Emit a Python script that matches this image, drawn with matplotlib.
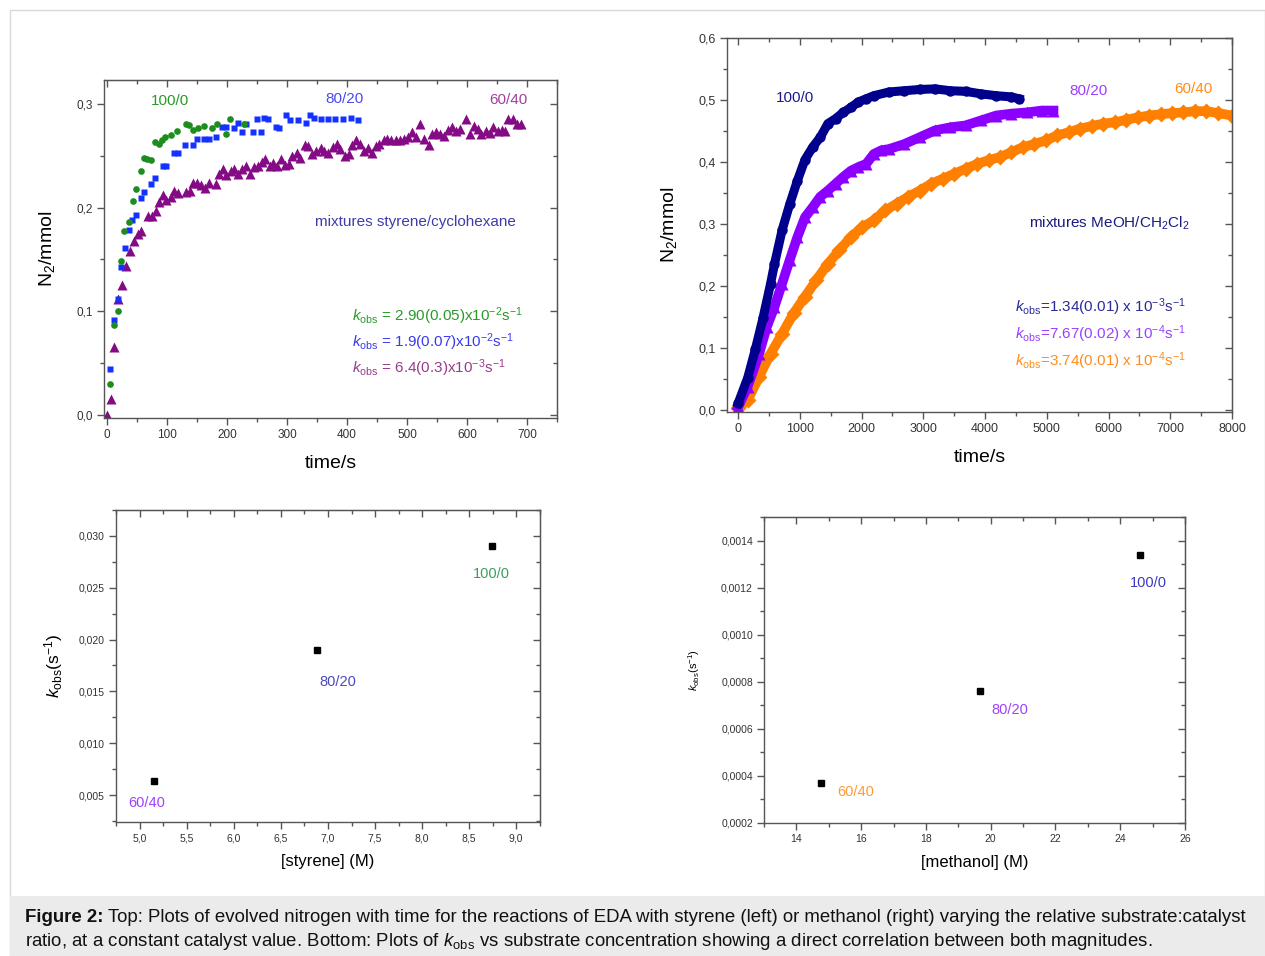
import matplotlib
matplotlib.use("Agg")
import matplotlib.pyplot as plt
from matplotlib.ticker import MultipleLocator, FuncFormatter
from matplotlib.patches import Rectangle

plt.rcParams['font.family'] = ['Liberation Sans', 'DejaVu Sans']
plt.rcParams['mathtext.fontset'] = 'custom'
plt.rcParams['mathtext.rm'] = 'Liberation Sans'
plt.rcParams['mathtext.it'] = 'Liberation Sans:italic'
plt.rcParams['mathtext.bf'] = 'Liberation Sans:bold'

W, H = 1265, 956

# ---------------- data: top-left (styrene) ----------------
t_green = [5, 12, 18, 24, 29, 36, 43, 49, 56, 61, 67, 74, 80, 86, 92, 97, 106, 117, 131, 137, 144, 151, 161, 175, 184, 198, 205, 228]
y_green = [0.030, 0.087, 0.100, 0.148, 0.177, 0.186, 0.206, 0.218, 0.235, 0.248, 0.247, 0.246, 0.263, 0.261, 0.265, 0.268, 0.270, 0.274, 0.281, 0.280, 0.275, 0.277, 0.279, 0.277, 0.281, 0.271, 0.285, 0.281]

t_blue = [5, 12, 18, 24, 30, 36, 42, 49, 56, 62, 74, 80, 93, 99, 112, 119, 130, 143, 150, 162, 170, 181, 192, 199, 212, 218, 225, 231, 244, 250, 257, 262, 269, 282, 287, 299, 305, 318, 331, 338, 345, 356, 369, 380, 394, 406, 419]
y_blue = [0.044, 0.092, 0.112, 0.143, 0.161, 0.178, 0.188, 0.193, 0.209, 0.215, 0.223, 0.228, 0.240, 0.240, 0.253, 0.253, 0.260, 0.260, 0.266, 0.266, 0.266, 0.268, 0.278, 0.278, 0.277, 0.282, 0.273, 0.281, 0.273, 0.285, 0.273, 0.286, 0.285, 0.278, 0.277, 0.289, 0.284, 0.284, 0.282, 0.289, 0.286, 0.285, 0.285, 0.285, 0.285, 0.286, 0.284]

t_purple = [0, 7, 12, 19, 25, 31, 38, 45, 52, 57, 68, 75, 81, 87, 94, 99, 106, 112, 119, 131, 138, 144, 150, 157, 163, 170, 181, 186, 194, 199, 206, 212, 218, 225, 231, 238, 245, 251, 258, 264, 271, 276, 283, 290, 296, 303, 309, 316, 322, 330, 335, 342, 349, 356, 362, 369, 376, 383, 389, 396, 403, 408, 415, 421, 428, 435, 442, 448, 454, 462, 467, 474, 481, 488, 495, 502, 509, 515, 522, 529, 536, 542, 549, 555, 562, 568, 575, 581, 588, 599, 605, 612, 619, 624, 631, 638, 644, 651, 658, 664, 669, 677, 683, 690]
y_purple = [0.000, 0.015, 0.065, 0.112, 0.125, 0.144, 0.158, 0.168, 0.174, 0.177, 0.192, 0.192, 0.197, 0.205, 0.212, 0.207, 0.210, 0.216, 0.214, 0.215, 0.216, 0.224, 0.224, 0.222, 0.219, 0.224, 0.223, 0.232, 0.237, 0.231, 0.235, 0.237, 0.232, 0.237, 0.240, 0.232, 0.239, 0.240, 0.244, 0.247, 0.240, 0.243, 0.240, 0.247, 0.241, 0.242, 0.250, 0.253, 0.248, 0.260, 0.259, 0.252, 0.255, 0.257, 0.255, 0.253, 0.258, 0.261, 0.256, 0.250, 0.252, 0.260, 0.265, 0.261, 0.255, 0.257, 0.253, 0.259, 0.261, 0.265, 0.266, 0.265, 0.265, 0.265, 0.266, 0.268, 0.273, 0.268, 0.281, 0.266, 0.260, 0.271, 0.273, 0.271, 0.269, 0.275, 0.278, 0.274, 0.276, 0.285, 0.271, 0.279, 0.276, 0.271, 0.274, 0.272, 0.278, 0.274, 0.275, 0.274, 0.285, 0.285, 0.281, 0.281]

# ---------------- data: top-right (methanol) ----------------
t_navy = [0, 155, 279, 402, 526, 588, 712, 836, 960, 1084, 1207, 1331, 1455, 1579, 1703, 1827, 1950, 2074, 2198, 2446, 2693, 2941, 3189, 3437, 3684, 3932, 4180, 4427, 4551]
y_navy = [0.011, 0.052, 0.098, 0.148, 0.204, 0.235, 0.290, 0.332, 0.370, 0.404, 0.424, 0.440, 0.462, 0.470, 0.480, 0.488, 0.497, 0.502, 0.507, 0.513, 0.515, 0.517, 0.518, 0.515, 0.514, 0.510, 0.507, 0.505, 0.502]

t_violet = [0, 155, 341, 464, 588, 712, 836, 960, 1084, 1207, 1331, 1455, 1579, 1703, 1827, 1950, 2074, 2198, 2322, 2446, 2693, 2941, 3189, 3437, 3684, 3932, 4180, 4427, 4675, 4923, 5108]
y_violet = [0.005, 0.038, 0.091, 0.134, 0.166, 0.204, 0.242, 0.279, 0.311, 0.327, 0.344, 0.354, 0.365, 0.376, 0.386, 0.392, 0.397, 0.413, 0.419, 0.421, 0.429, 0.440, 0.451, 0.456, 0.459, 0.467, 0.475, 0.478, 0.480, 0.483, 0.483]

t_orange = [0, 155, 341, 526, 712, 898, 1084, 1269, 1455, 1641, 1827, 2012, 2198, 2384, 2570, 2755, 2941, 3127, 3313, 3498, 3684, 3870, 4056, 4241, 4427, 4613, 4799, 4985, 5170, 5356, 5542, 5728, 5913, 6099, 6285, 6471, 6656, 6842, 7028, 7214, 7399, 7585, 7771, 8000]
y_orange = [0.003, 0.016, 0.054, 0.091, 0.123, 0.156, 0.183, 0.210, 0.236, 0.258, 0.279, 0.295, 0.306, 0.322, 0.333, 0.344, 0.354, 0.365, 0.373, 0.381, 0.389, 0.397, 0.403, 0.408, 0.416, 0.424, 0.429, 0.435, 0.443, 0.448, 0.454, 0.458, 0.462, 0.464, 0.468, 0.472, 0.475, 0.477, 0.479, 0.480, 0.482, 0.482, 0.479, 0.475]

# ---------------- data: bottom ----------------
styrene_conc = [5.15, 6.88, 8.74]
kobs_styrene = [0.0064, 0.0190, 0.0290]
styrene_labels = ["60/40", "80/20", "100/0"]

methanol_conc = [14.75, 19.68, 24.60]
kobs_methanol = [0.00037, 0.00076, 0.00134]
methanol_labels = ["60/40", "80/20", "100/0"]

# ---------------- figure ----------------
fig = plt.figure(figsize=(W / 100, H / 100), dpi=100)
fig.patch.set_facecolor('white')


def fx(px):
    return px / W


def fy(py):
    return 1 - py / H


def axrect(l, t, r, b):
    return [fx(l), fy(b), (r - l) / W, (b - t) / H]


# outer frame and caption band
fig.patches.append(Rectangle((fx(10), fy(955)), fx(1265) - fx(10), fy(10) - fy(955),
                             transform=fig.transFigure, fill=False, edgecolor='#d8d8d8', lw=1, zorder=0))
fig.patches.append(Rectangle((fx(10), 0), 1 - fx(10), fy(896), transform=fig.transFigure,
                             facecolor='#ebebeb', edgecolor='none', zorder=0))

SPINE = '#555555'
TICKC = '#333333'


def comma(nd):
    return FuncFormatter(lambda v, p: (f"{v:.{nd}f}").replace('.', ','))


def style(ax, xmaj, xmin, ymaj, ymin, xfmt, yfmt, lsize):
    for s in ax.spines.values():
        s.set_color(SPINE)
        s.set_linewidth(1.0)
    ax.xaxis.set_major_locator(MultipleLocator(xmaj))
    ax.xaxis.set_minor_locator(MultipleLocator(xmin))
    ax.yaxis.set_major_locator(MultipleLocator(ymaj))
    ax.yaxis.set_minor_locator(MultipleLocator(ymin))
    ax.xaxis.set_major_formatter(xfmt)
    ax.yaxis.set_major_formatter(yfmt)
    ax.tick_params(which='major', direction='out', length=5, width=1, color=SPINE,
                   labelsize=lsize, labelcolor=TICKC, pad=3)
    ax.tick_params(which='minor', direction='out', length=3, width=1, color=SPINE)
    sx = ax.secondary_xaxis('top')
    sy = ax.secondary_yaxis('right')
    for sa, axis in ((sx, sx.xaxis), (sy, sy.yaxis)):
        axis.set_major_locator(MultipleLocator(xmaj if sa is sx else ymaj))
        axis.set_minor_locator(MultipleLocator(xmin if sa is sx else ymin))
        sa.tick_params(which='major', direction='in', length=5, width=1, color=SPINE, labelsize=0)
        sa.tick_params(which='minor', direction='in', length=3, width=1, color=SPINE)
        axis.set_major_formatter(FuncFormatter(lambda v, p: ''))
        for s in sa.spines.values():
            s.set_color(SPINE)


# ---- top-left ----
ax1 = fig.add_axes(axrect(104, 80, 557, 418))
ax1.plot(t_green, y_green, 'o', color='#1e8c1e', ms=4.8, mec='none', zorder=3)
ax1.plot(t_blue, y_blue, 's', color='#1432ff', ms=4.8, mec='none', zorder=2)
ax1.plot(t_purple, y_purple, '^', color='#850a85', ms=6.5, mec='none', zorder=1)
ax1.set_xlim(-5, 750)
ax1.set_ylim(-0.003, 0.323)
style(ax1, 100, 50, 0.1, 0.05, FuncFormatter(lambda v, p: f"{v:.0f}"), comma(1), 8.5)
ax1.set_xlabel('time/s', fontsize=14, labelpad=10)
ax1.set_ylabel('N$_2$/mmol', fontsize=14, labelpad=14)

fig.text(fx(170), fy(101), '100/0', color='#2a9a2a', fontsize=11, ha='center', va='center')
fig.text(fx(345), fy(99), '80/20', color='#4a4aee', fontsize=11, ha='center', va='center')
fig.text(fx(508), fy(100), '60/40', color='#a0409a', fontsize=11, ha='center', va='center')
fig.text(fx(415), fy(222), 'mixtures styrene/cyclohexane', color='#3c3caa', fontsize=11, ha='center', va='center')
fig.text(fx(352), fy(316), r'$k_{\mathrm{obs}}$ = 2.90(0.05)x10$^{-2}$s$^{-1}$', color='#2a9a2a', fontsize=11, ha='left', va='center')
fig.text(fx(352), fy(342), r'$k_{\mathrm{obs}}$ = 1.9(0.07)x10$^{-2}$s$^{-1}$', color='#3a3aee', fontsize=11, ha='left', va='center')
fig.text(fx(352), fy(368), r'$k_{\mathrm{obs}}$ = 6.4(0.3)x10$^{-3}$s$^{-1}$', color='#9a3a8a', fontsize=11, ha='left', va='center')

# ---- top-right ----
ax2 = fig.add_axes(axrect(727, 38, 1232, 412))
ax2.plot(t_orange, y_orange, '-D', color='#ff8000', lw=7, ms=8, mec='none', zorder=1)
ax2.plot(t_violet, y_violet, '-^', color='#8c00ff', lw=7, ms=9, mec='none', zorder=2)
ax2.plot(t_navy, y_navy, '-o', color='#00008c', lw=6.5, ms=7.5, mec='none', zorder=3)
ax2.set_xlim(-180, 8000)
ax2.set_ylim(-0.003, 0.6)
style(ax2, 1000, 500, 0.1, 0.05, FuncFormatter(lambda v, p: f"{v:.0f}"), comma(1), 9)
ax2.set_xlabel('time/s', fontsize=14, labelpad=10)
ax2.set_ylabel('N$_2$/mmol', fontsize=14, labelpad=14)

fig.text(fx(795), fy(98), '100/0', color='#1a1a90', fontsize=11, ha='center', va='center')
fig.text(fx(1088), fy(91), '80/20', color='#9a40ff', fontsize=11, ha='center', va='center')
fig.text(fx(1193), fy(89), '60/40', color='#ff8c1a', fontsize=11, ha='center', va='center')
fig.text(fx(1109), fy(223), r'mixtures MeOH/CH$_2$Cl$_2$', color='#1a1a80', fontsize=11, ha='center', va='center')
fig.text(fx(1015), fy(307), r'$k_{\mathrm{obs}}$=1.34(0.01) x 10$^{-3}$s$^{-1}$', color='#2a2a9a', fontsize=11, ha='left', va='center')
fig.text(fx(1015), fy(334), r'$k_{\mathrm{obs}}$=7.67(0.02) x 10$^{-4}$s$^{-1}$', color='#9a40ff', fontsize=11, ha='left', va='center')
fig.text(fx(1015), fy(361), r'$k_{\mathrm{obs}}$=3.74(0.01) x 10$^{-4}$s$^{-1}$', color='#ff8c1a', fontsize=11, ha='left', va='center')

# ---- bottom-left ----
ax3 = fig.add_axes(axrect(116, 510, 540, 822))
ax3.plot(styrene_conc, kobs_styrene, 's', color='black', ms=4.5)
ax3.set_xlim(4.745, 9.255)
ax3.set_ylim(0.0024, 0.0325)
style(ax3, 0.5, 0.25, 0.005, 0.0025, comma(1), comma(3), 7.5)
ax3.set_xlabel('[styrene] (M)', fontsize=12, labelpad=8)
ax3.set_ylabel(r'$k_{\mathrm{obs}}$(s$^{-1}$)', fontsize=12.5, labelpad=10)
lab_cols3 = ['#a040ff', '#4a4ac0', '#3aa060']
lab_pos3 = [(147, 803), (338, 682), (491, 574)]
for lab, c, (px, py) in zip(styrene_labels, lab_cols3, lab_pos3):
    fig.text(fx(px), fy(py), lab, color=c, fontsize=10.5, ha='center', va='center')

# ---- bottom-right ----
ax4 = fig.add_axes(axrect(764, 517, 1185, 823))
ax4.plot(methanol_conc, kobs_methanol, 's', color='black', ms=4.5)
ax4.set_xlim(13, 26)
ax4.set_ylim(0.0002, 0.0015)
style(ax4, 2, 1, 0.0002, 0.0001, FuncFormatter(lambda v, p: f"{v:.0f}"), comma(4), 7.5)
ax4.set_xlabel('[methanol] (M)', fontsize=12, labelpad=8)
ax4.set_ylabel(r'$k_{\mathrm{obs}}$(s$^{-1}$)', fontsize=8, labelpad=14)
lab_cols4 = ['#ff9a33', '#a040ff', '#3a3ac0']
lab_pos4 = [(856, 792), (1010, 710), (1148, 583)]
for lab, c, (px, py) in zip(methanol_labels, lab_cols4, lab_pos4):
    fig.text(fx(px), fy(py), lab, color=c, fontsize=10.5, ha='center', va='center')

# ---- caption ----
CAP = 13.4
renderer = fig.canvas.get_renderer()
tb = fig.text(fx(25), fy(918), 'Figure 2:', fontsize=CAP, fontweight='bold', ha='left', va='center', color='#111111')
bb = tb.get_window_extent(renderer=renderer)
fig.text((bb.x1 + 4) / W, fy(918),
         'Top: Plots of evolved nitrogen with time for the reactions of EDA with styrene (left) or methanol (right) varying the relative substrate:catalyst',
         fontsize=CAP, ha='left', va='center', color='#111111')
fig.text(fx(25), fy(942), r'ratio, at a constant catalyst value. Bottom: Plots of $k_{\mathrm{obs}}$ vs substrate concentration showing a direct correlation between both magnitudes.',
         fontsize=CAP, ha='left', va='center', color='#111111')

fig.savefig('out.png', dpi=100)
